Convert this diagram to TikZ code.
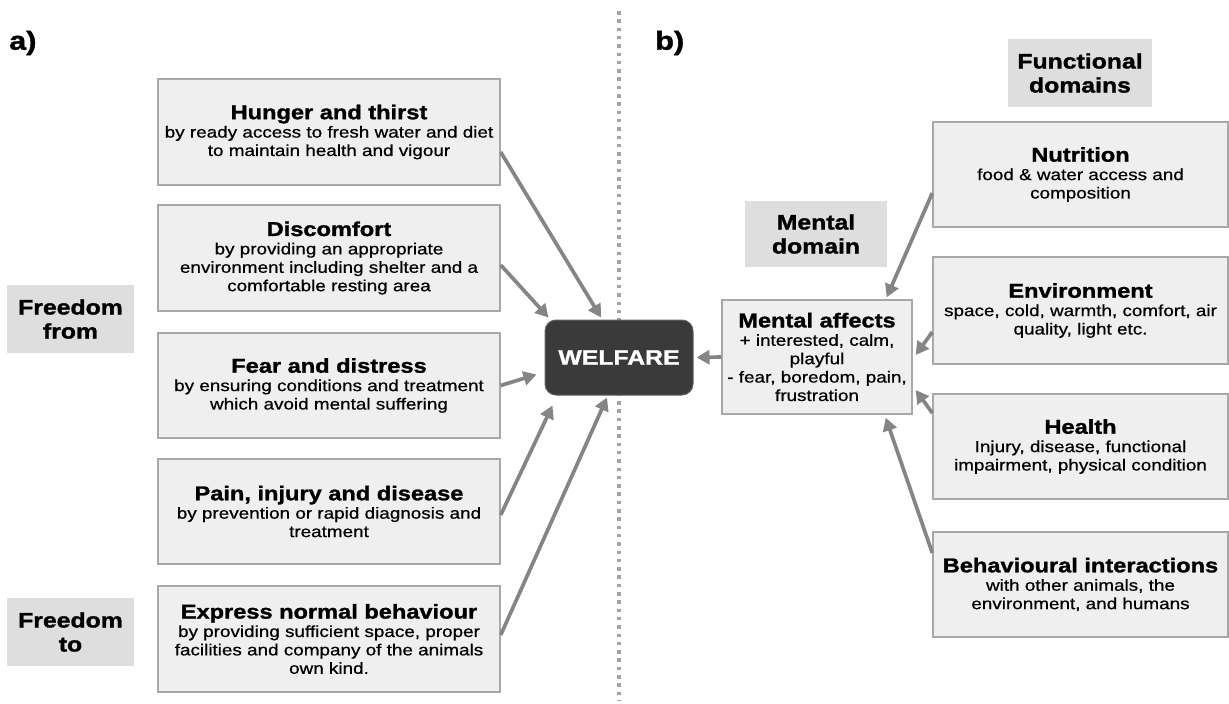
\documentclass[tikz,border=0pt]{standalone}
\usepackage{fontspec}
\setmainfont[FakeStretch=1.18,
  UprightFeatures={FakeBold=0.7},
  BoldFeatures={FakeBold=1.4}]{Liberation Sans}
\usetikzlibrary{arrows.meta}

\definecolor{boxfill}{HTML}{EFEFEF}
\definecolor{boxline}{HTML}{A8A8A8}
\definecolor{tagfill}{HTML}{DEDEDE}
\definecolor{arrowc}{HTML}{858585}
\definecolor{welfill}{HTML}{3A3A3A}
\definecolor{sepc}{HTML}{A3A3A3}

% heading line inside a box
\newcommand{\hd}[1]{{\fontsize{20}{23}\selectfont\bfseries #1}}

\tikzset{
  infobox/.style={draw=boxline, line width=1.4pt, fill=boxfill, align=center,
    inner sep=0pt, font=\fontsize{16}{18.4}\selectfont},
  tagbox/.style={fill=tagfill, align=center, inner sep=0pt,
    font=\fontsize{21}{24}\selectfont\bfseries},
  partlabel/.style={anchor=west, inner sep=0pt, font=\fontsize{26}{30}\selectfont\bfseries},
  flow/.style={draw=arrowc, line width=3.7pt, -{Triangle[length=13pt,width=14pt]}},
}

\begin{document}
\begin{tikzpicture}[x=1pt,y=-1pt]
\useasboundingbox (0,0) rectangle (1229,704);

% dotted separator between the two panels
\coordinate (septop) at (619,11);
\coordinate (sepbot) at (619,700);
\draw[sepc, line width=3.5pt, dash pattern=on 3.5pt off 4.8pt] (septop) -- (sepbot);

% panel labels
\node[partlabel] (pa) at (9,43) {a)};
\node[partlabel] (pb) at (655,43) {b)};

% ---- panel a: five freedoms ----
\node[infobox, minimum width=342pt, minimum height=106pt] (b1) at (329,132)
  {\hd{Hunger and thirst}\\by ready access to fresh water and diet\\to maintain health and vigour};
\node[infobox, minimum width=342pt, minimum height=106pt] (b2) at (329,258)
  {\hd{Discomfort}\\by providing an appropriate\\environment including shelter and a\\comfortable resting area};
\node[infobox, minimum width=342pt, minimum height=105pt] (b3) at (329,385.5)
  {\hd{Fear and distress}\\by ensuring conditions and treatment\\which avoid mental suffering};
\node[infobox, minimum width=342pt, minimum height=105pt] (b4) at (329,511.5)
  {\hd{Pain, injury and disease}\\by prevention or rapid diagnosis and\\treatment};
\node[infobox, minimum width=342pt, minimum height=106pt] (b5) at (329,639)
  {\hd{Express normal behaviour}\\by providing sufficient space, proper\\facilities and company of the animals\\own kind.};

\node[tagbox, minimum width=127pt, minimum height=68pt] (ffrom) at (70.5,319) {Freedom\\from};
\node[tagbox, minimum width=127pt, minimum height=68pt] (fto) at (70.5,632) {Freedom\\to};

% central node
\node[fill=welfill, draw=welfill!80!white, line width=1pt, rounded corners=11pt,
      minimum width=148pt, minimum height=75pt, inner sep=0pt, text=white,
      font=\fontsize{21}{24}\selectfont\bfseries] (wel) at (619,357.5) {WELFARE};

% ---- panel b: domains ----
\node[tagbox, minimum width=144pt, minimum height=68pt] (fd) at (1080,73) {Functional\\domains};
\node[tagbox, minimum width=142pt, minimum height=66pt] (md) at (816,234) {Mental\\domain};

\node[infobox, minimum width=190pt, minimum height=114pt] (ma) at (817,357)
  {\hd{Mental affects}\\+ interested, calm,\\playful\\- fear, boredom, pain,\\frustration};

\node[infobox, minimum width=295pt, minimum height=105pt] (nu) at (1080.5,174.5)
  {\hd{Nutrition}\\food \& water access and\\composition};
\node[infobox, minimum width=295pt, minimum height=107pt] (en) at (1080.5,310.5)
  {\hd{Environment}\\space, cold, warmth, comfort, air\\quality, light etc.};
\node[infobox, minimum width=295pt, minimum height=105pt] (he) at (1080.5,446.5)
  {\hd{Health}\\Injury, disease, functional\\impairment, physical condition};
\node[infobox, minimum width=295pt, minimum height=105pt] (be) at (1080.5,584.5)
  {\hd{Behavioural interactions}\\with other animals, the\\environment, and humans};

% ---- connectors ----
\draw[flow] ([yshift=-20pt]b1.east) -- ([xshift=-18pt,yshift=2pt]wel.north);
\draw[flow] ([yshift=-7pt]b2.east) -- ([xshift=4pt,yshift=2pt]wel.north west);
\draw[flow] (b3.east) -- ([xshift=-8pt,yshift=-17pt]wel.west);
\draw[flow] ([yshift=-3.5pt]b4.east) -- ([xshift=8pt,yshift=-10pt]wel.south west);
\draw[flow] ([yshift=4pt]b5.east) -- ([xshift=-12pt,yshift=-2pt]wel.south);

\draw[flow] (ma.west) -- ([xshift=3pt]wel.east);

\draw[flow] ([yshift=-18.5pt]nu.west) -- ([xshift=-26pt,yshift=2pt]ma.north east);
\draw[flow] ([yshift=-21.5pt]en.west) -- ([xshift=3pt,yshift=2pt]ma.east);
\draw[flow] ([yshift=33.5pt]he.west) -- ([xshift=3pt,yshift=-33pt]ma.east);
\draw[flow] ([yshift=31.5pt]be.west) -- ([xshift=-27pt,yshift=-3pt]ma.south east);
\end{tikzpicture}
\end{document}
